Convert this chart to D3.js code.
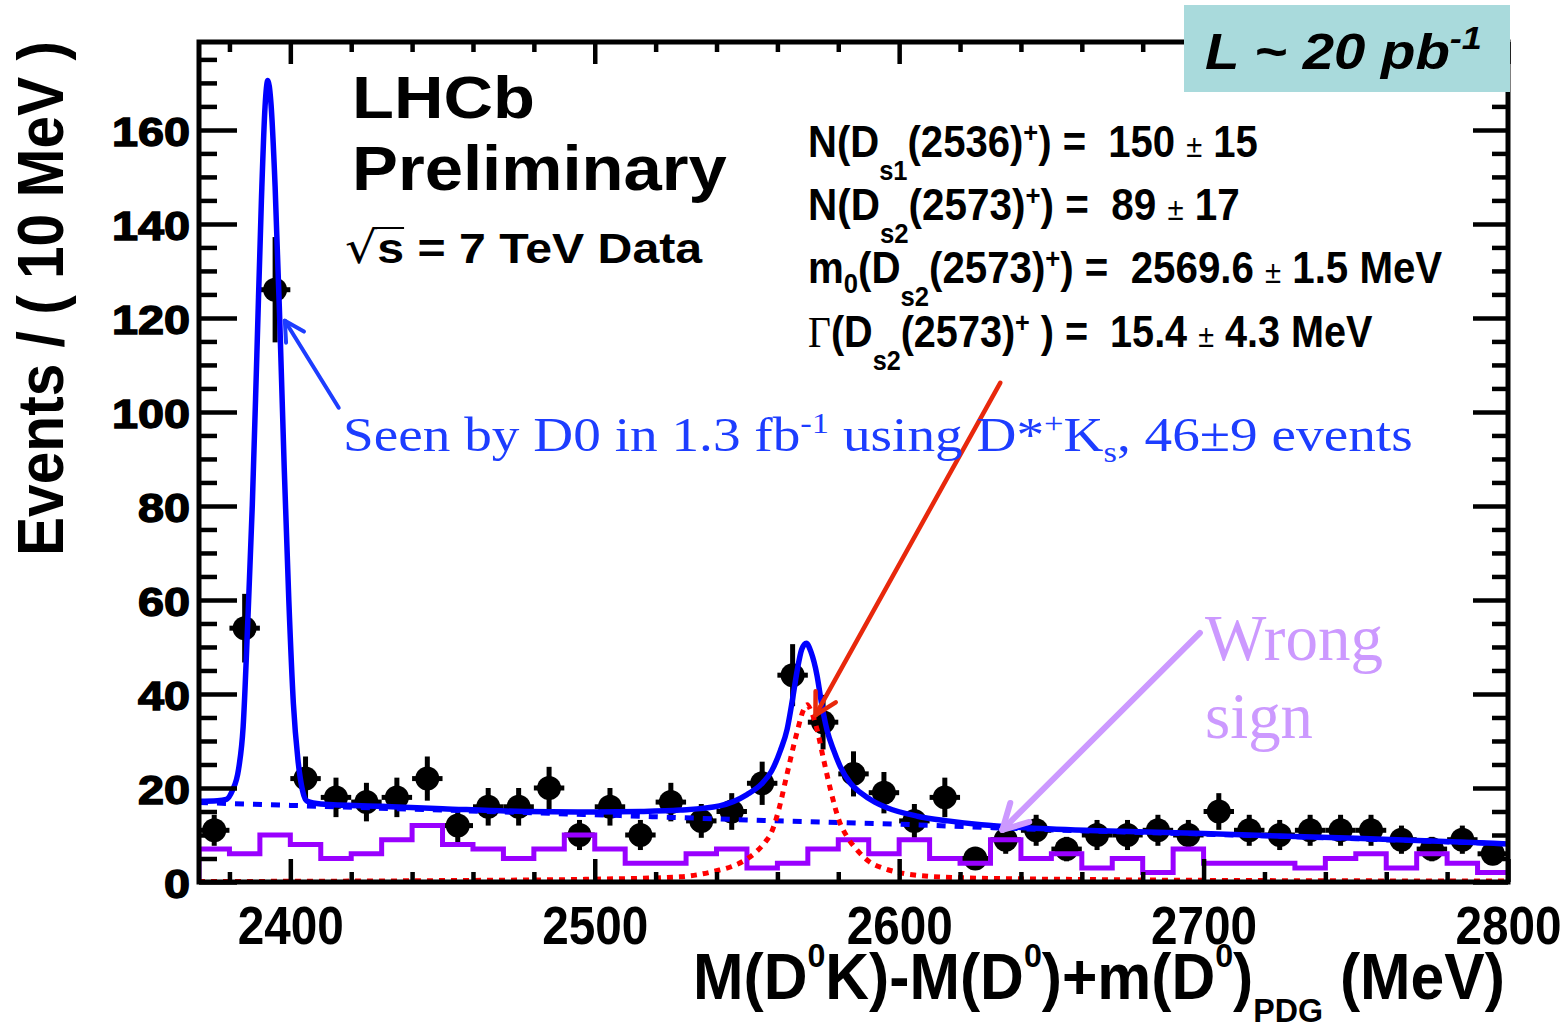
<!DOCTYPE html>
<html>
<head>
<meta charset="utf-8">
<script src="https://cdn.jsdelivr.net/npm/d3@7"></script>
<style>
  html, body { margin: 0; padding: 0; background: #fff; }
  svg { display: block; }
  text { white-space: pre; }
</style>
</head>
<body>
<svg id="chart" width="1567" height="1029"></svg>
<script>
// ---- data ----

// bin centres (10 MeV bins)
const massBins = [2375, 2385, 2395, 2405, 2415, 2425, 2435, 2445, 2455, 2465,
                  2475, 2485, 2495, 2505, 2515, 2525, 2535, 2545, 2555, 2565,
                  2575, 2585, 2595, 2605, 2615, 2625, 2635, 2645, 2655, 2665,
                  2675, 2685, 2695, 2705, 2715, 2725, 2735, 2745, 2755, 2765,
                  2775, 2785, 2795];
const binHalfWidth = 5;

// right sign data
const counts = [11, 54, 126, 22, 18, 17, 18, 22, 12, 16,
                16, 20, 10, 16, 10, 17, 13, 15, 21, 44,
                34, 23, 19, 13, 18, 5, 9, 11, 7, 10,
                10, 11, 10, 15, 11, 10, 11, 11, 11, 9,
                7, 9, 6];
const countErrors = [3.3, 7.3, 11.2, 4.7, 4.2, 4.1, 4.2, 4.7, 3.5, 4.0,
                     4.0, 4.5, 3.2, 4.0, 3.2, 4.1, 3.6, 3.9, 4.6, 6.6,
                     5.8, 4.8, 4.4, 3.6, 4.2, 2.2, 3.0, 3.3, 2.6, 3.2,
                     3.2, 3.3, 3.2, 3.9, 3.3, 3.2, 3.3, 3.3, 3.3, 3.0,
                     2.6, 3.0, 2.4];

// wrong sign histogram
const wrongSign = [7, 6, 10, 8, 5, 6, 9, 12, 8, 7,
                   5, 7, 10, 7, 4, 4, 6, 7, 3, 4,
                   7, 9, 6, 9, 5, 4, 9, 5, 6, 3,
                   5, 2, 7, 4, 4, 4, 3, 5, 6, 3,
                   6, 4, 2];

// total fit (solid blue)
const fitMass = [2370, 2376, 2379, 2381, 2383, 2384.5, 2386, 2387.5, 2389, 2390.5,
                 2391.7, 2392.6, 2393.6, 2395, 2396.5, 2398, 2399.5, 2401, 2402.5, 2404,
                 2405.5, 2410, 2430, 2450, 2477, 2500, 2515, 2528, 2541, 2550,
                 2555, 2558, 2561, 2563.2, 2565, 2566.5, 2568, 2569.5, 2571, 2573,
                 2574.5, 2576.3, 2578.5, 2580.7, 2584, 2587.3, 2592, 2596, 2606, 2616,
                 2627, 2640, 2666, 2700, 2750, 2800];
const fitTotal = [17.2, 17.3, 17.6, 19.5, 24, 33, 55, 80, 112, 145,
                  165, 170.5, 166, 148, 120, 88, 60, 38, 26, 19.5,
                  17.2, 16.6, 16.1, 15.6, 15.0, 14.9, 15.0, 15.3, 16.2, 18.6,
                  21, 23.5, 28, 32.5, 39, 45, 49.5, 50.8, 49, 44,
                  38, 32.3, 28, 24.5, 21, 19, 17, 15.8, 14.0, 13.0,
                  12.2, 11.6, 10.9, 10.3, 9.3, 8.1];

// combinatorial background (dotted blue)
const bkgMass = [2370, 2400, 2450, 2500, 2528, 2550, 2600, 2633, 2650, 2700, 2750, 2800];
const bkgValues = [16.9, 16.3, 15.3, 14.3, 13.7, 13.2, 12.3, 11.5, 11.1, 10.2, 9.2, 8.1];

// Ds2(2573) signal (dotted red)
const ds2Mass = [2370, 2450, 2500, 2528, 2540, 2545, 2550, 2553, 2556, 2558,
                 2560.5, 2563, 2566.5, 2568.5, 2569.8, 2571, 2573, 2575.2, 2577.5, 2580.2,
                 2583, 2586.2, 2590, 2595, 2600, 2605, 2620, 2666, 2700, 2800];
const ds2Values = [0.1, 0.3, 0.6, 1.1, 2.4, 3.3, 4.9, 6.4, 8.5, 10.5,
                   15.5, 22.5, 32, 36.5, 37.7, 36.5, 32.5, 26, 19.5, 13.2,
                   9.5, 6.8, 4.4, 2.9, 2.0, 1.5, 0.9, 0.5, 0.35, 0.2];

const xTicks = [2400, 2500, 2600, 2700, 2800];
const yTicks = [0, 20, 40, 60, 80, 100, 120, 140, 160];

// annotation arrows, [mass, events] for tail and tip
const blueArrow = [[2415.9, 100.9], [2398.2, 119.4]];
const redArrow = [[2633.2, 106.2], [2572.5, 35.5]];
const wsArrow = [[2698.8, 53.0], [2633.9, 11.1]];

// ---- drawing ----

const SANS = "'Liberation Sans', Arial, Helvetica, sans-serif";
const SERIF = "'Liberation Serif', 'Times New Roman', serif";

const svg = d3.select("#chart");
svg.append("rect").attr("width", 1567).attr("height", 1029).attr("fill", "#fff");

const pLeft = 199, pRight = 1508, pTop = 42, pBottom = 882;

const x = d3.scaleLinear().domain([2370, 2800]).range([pLeft, pRight]);
const y = d3.scaleLinear().domain([0, 178.7]).range([pBottom, pTop]);

svg.append("clipPath").attr("id", "plotclip")
    .append("rect")
    .attr("x", pLeft).attr("y", pTop)
    .attr("width", pRight - pLeft).attr("height", pBottom - pTop);

// Text with sub/superscripts, squeezed to a target width if given.
function richText(parent, opt) {
    const g = parent.append("g");
    const t = g.append("text")
        .attr("font-family", opt.family || SANS)
        .attr("font-size", opt.size)
        .attr("font-weight", opt.weight || "bold")
        .attr("font-style", opt.style || "normal")
        .attr("fill", opt.fill || "#000");
    let cur = 0;
    opt.parts.forEach(function(p) {
        const shift = p.shift || 0;
        const s = t.append("tspan").attr("dy", shift - cur).text(p.t);
        cur = shift;
        if (p.size) s.attr("font-size", p.size);
        if (p.family) s.attr("font-family", p.family);
        if (p.weight) s.attr("font-weight", p.weight);
        if (p.style) s.attr("font-style", p.style);
    });
    let k = 1;
    if (opt.width) k = opt.width / t.node().getBBox().width;
    const rot = opt.rotate ? " rotate(" + opt.rotate + ")" : "";
    g.attr("transform", "translate(" + opt.x + "," + opt.y + ")" + rot + " scale(" + k + ",1)");
    return t;
}

const plot = svg.append("g").attr("clip-path", "url(#plotclip)");

// data points with error bars
const pts = massBins.map((m, i) => ({m: m, n: counts[i], e: countErrors[i]}));
const gData = plot.append("g");
gData.selectAll("line.ey").data(pts).join("line")
    .attr("class", "ey")
    .attr("x1", d => x(d.m)).attr("x2", d => x(d.m))
    .attr("y1", d => y(d.n - d.e)).attr("y2", d => y(d.n + d.e))
    .attr("stroke", "#000").attr("stroke-width", 5);
gData.selectAll("line.ex").data(pts).join("line")
    .attr("class", "ex")
    .attr("x1", d => x(d.m - binHalfWidth)).attr("x2", d => x(d.m + binHalfWidth))
    .attr("y1", d => y(d.n)).attr("y2", d => y(d.n))
    .attr("stroke", "#000").attr("stroke-width", 5);
gData.selectAll("circle").data(pts).join("circle")
    .attr("cx", d => x(d.m)).attr("cy", d => y(d.n)).attr("r", 12)
    .attr("fill", "#000");

// wrong sign histogram (steps)
const wsPoints = [[massBins[0] - binHalfWidth, 0]]
    .concat(massBins.map((m, i) => [m - binHalfWidth, wrongSign[i]]))
    .concat([[massBins[massBins.length - 1] + binHalfWidth, wrongSign[wrongSign.length - 1]]]);

plot.append("path")
    .attr("d", d3.line().x(d => x(d[0])).y(d => y(d[1])).curve(d3.curveStepAfter)(wsPoints))
    .attr("fill", "none").attr("stroke", "#9900ff").attr("stroke-width", 5);

const curveLine = d3.line().x(d => x(d[0])).y(d => y(d[1])).curve(d3.curveMonotoneX);

plot.append("path")
    .attr("d", curveLine(bkgMass.map((m, i) => [m, bkgValues[i]])))
    .attr("fill", "none").attr("stroke", "#0000ff").attr("stroke-width", 5)
    .attr("stroke-dasharray", "9,9");

plot.append("path")
    .attr("d", curveLine(ds2Mass.map((m, i) => [m, ds2Values[i]])))
    .attr("fill", "none").attr("stroke", "#ff0000").attr("stroke-width", 5)
    .attr("stroke-dasharray", "6,6");

plot.append("path")
    .attr("d", curveLine(fitMass.map((m, i) => [m, fitTotal[i]])))
    .attr("fill", "none").attr("stroke", "#0000ff").attr("stroke-width", 5.5)
    .attr("stroke-linejoin", "round");

// axes: ROOT style ticks on all four sides, pointing inwards
function styleAxis(g) {
    g.select(".domain").remove();
    g.selectAll(".tick line").attr("stroke", "#000").attr("stroke-width", 4.5);
}

const yMinor = d3.range(5, 180, 5).filter(v => v % 20 !== 0);
const xMinor = d3.range(2380, 2800, 20).filter(v => v % 100 !== 0);

const yAxisG = svg.append("g").attr("transform", "translate(" + pLeft + ",0)")
    .call(d3.axisLeft(y).tickValues(yTicks).tickSizeInner(-38).tickSizeOuter(0)
        .tickPadding(9).tickFormat(d3.format("d")))
    .call(styleAxis);
yAxisG.selectAll("text")
    .attr("font-family", SANS).attr("font-weight", "bold").attr("font-size", 40)
    .attr("fill", "#000").attr("stroke", "#000").attr("stroke-width", 1.4)
    .attr("dy", "0.38em")
    .attr("textLength", d => String(d).length * 26)
    .attr("lengthAdjust", "spacingAndGlyphs");
svg.append("g").attr("transform", "translate(" + pLeft + ",0)")
    .call(d3.axisLeft(y).tickValues(yMinor).tickSize(-18).tickFormat(""))
    .call(styleAxis);

svg.append("g").attr("transform", "translate(" + pRight + ",0)")
    .call(d3.axisRight(y).tickValues(yTicks).tickSize(-35).tickFormat(""))
    .call(styleAxis);
svg.append("g").attr("transform", "translate(" + pRight + ",0)")
    .call(d3.axisRight(y).tickValues(yMinor).tickSize(-16).tickFormat(""))
    .call(styleAxis);

const xAxisG = svg.append("g").attr("transform", "translate(0," + pBottom + ")")
    .call(d3.axisBottom(x).tickValues(xTicks).tickSizeInner(-23).tickSizeOuter(0)
        .tickPadding(24).tickFormat(d3.format("d")))
    .call(styleAxis);
xAxisG.selectAll("text")
    .attr("font-family", SANS).attr("font-weight", "bold").attr("font-size", 53)
    .attr("fill", "#000")
    .attr("textLength", 106)
    .attr("lengthAdjust", "spacingAndGlyphs");
svg.append("g").attr("transform", "translate(0," + pBottom + ")")
    .call(d3.axisBottom(x).tickValues(xMinor).tickSize(-10).tickFormat(""))
    .call(styleAxis);

svg.append("g").attr("transform", "translate(0," + pTop + ")")
    .call(d3.axisTop(x).tickValues(xTicks).tickSize(-22).tickFormat(""))
    .call(styleAxis);
svg.append("g").attr("transform", "translate(0," + pTop + ")")
    .call(d3.axisTop(x).tickValues(xMinor).tickSize(-10).tickFormat(""))
    .call(styleAxis);

// frame
svg.append("rect")
    .attr("x", pLeft).attr("y", pTop)
    .attr("width", pRight - pLeft).attr("height", pBottom - pTop)
    .attr("fill", "none").attr("stroke", "#000").attr("stroke-width", 5);

// axis titles
richText(svg, {
    x: 693, y: 999, size: 64, width: 812,
    parts: [
        {t: "M(D"}, {t: "0", size: 34, shift: -32}, {t: "K)-M(D"},
        {t: "0", size: 34, shift: -32}, {t: ")+m(D"}, {t: "0", size: 34, shift: -32},
        {t: ")"}, {t: "PDG", size: 34, shift: 23}, {t: " (MeV)"}
    ]
});
richText(svg, {
    x: 63, y: 556, size: 64, width: 515, rotate: -90,
    parts: [{t: "Events / ( 10 MeV )"}]
});

// LHCb labels
richText(svg, {x: 352, y: 118, size: 60, width: 183, parts: [{t: "LHCb"}]});
richText(svg, {x: 352, y: 190, size: 63, width: 375, parts: [{t: "Preliminary"}]});
const sqrtText = richText(svg, {
    x: 345, y: 263, size: 42, width: 358,
    parts: [
        {t: "\u221A", weight: "normal", family: "'DejaVu Sans', sans-serif", size: 44},
        {t: "s = 7 TeV Data"}
    ]
});
const e0 = sqrtText.node().getExtentOfChar(0);
const e1 = sqrtText.node().getExtentOfChar(1);
d3.select(sqrtText.node().parentNode).append("line")
    .attr("x1", e0.x + e0.width - 3).attr("x2", e1.x + e1.width)
    .attr("y1", -35).attr("y2", -35)
    .attr("stroke", "#000").attr("stroke-width", 2);

// fit results
const PM = {t: "\u00B1", weight: "normal", size: 32};
richText(svg, {
    x: 808, y: 157, size: 44, width: 450,
    parts: [{t: "N(D"}, {t: "s1", size: 28, shift: 23}, {t: "(2536)"},
            {t: "+", size: 28, shift: -15}, {t: ") =  150 "}, PM, {t: " 15"}]
});
richText(svg, {
    x: 808, y: 220, size: 44, width: 432,
    parts: [{t: "N(D"}, {t: "s2", size: 28, shift: 23}, {t: "(2573)"},
            {t: "+", size: 28, shift: -15}, {t: ") =  89 "}, PM, {t: " 17"}]
});
richText(svg, {
    x: 808, y: 283, size: 44, width: 635,
    parts: [{t: "m"}, {t: "0", size: 28, shift: 10}, {t: "(D"},
            {t: "s2", size: 28, shift: 23}, {t: "(2573)"},
            {t: "+", size: 28, shift: -15}, {t: ") =  2569.6 "}, PM, {t: " 1.5 MeV"}]
});
richText(svg, {
    x: 808, y: 347, size: 44, width: 565,
    parts: [{t: "\u0393", family: SERIF, weight: "normal", size: 44}, {t: "(D"},
            {t: "s2", size: 28, shift: 23}, {t: "(2573)"},
            {t: "+", size: 28, shift: -15}, {t: " ) =  15.4 "}, PM, {t: " 4.3 MeV"}]
});

// annotations
function arrow(pts, color, width, head) {
    const tail = [x(pts[0][0]), y(pts[0][1])];
    const tip = [x(pts[1][0]), y(pts[1][1])];
    const g = svg.append("g").attr("stroke", color).attr("stroke-width", width)
        .attr("stroke-linecap", "round").attr("fill", "none");
    g.append("line").attr("x1", tail[0]).attr("y1", tail[1]).attr("x2", tip[0]).attr("y2", tip[1]);
    const ang = Math.atan2(tail[1] - tip[1], tail[0] - tip[0]);
    [-0.5, 0.5].forEach(function(da) {
        g.append("line")
            .attr("x1", tip[0]).attr("y1", tip[1])
            .attr("x2", tip[0] + head * Math.cos(ang + da))
            .attr("y2", tip[1] + head * Math.sin(ang + da));
    });
}

arrow(blueArrow, "#1d3dff", 4, 22);
arrow(redArrow, "#e8280c", 4.5, 24);
arrow(wsArrow, "#cc99ff", 6, 28);

richText(svg, {
    x: 343, y: 451, size: 48, width: 1070, family: SERIF, weight: "normal", fill: "#1d3dff",
    parts: [{t: "Seen by D0 in 1.3 fb"}, {t: "-1", size: 30, shift: -18},
            {t: " using D*"}, {t: "+", size: 30, shift: -18}, {t: "K"},
            {t: "s", size: 30, shift: 11}, {t: ", 46\u00B19 events"}]
});

richText(svg, {x: 1205, y: 660, size: 66, width: 178, family: SERIF, weight: "normal",
    fill: "#cc99ff", parts: [{t: "Wrong"}]});
richText(svg, {x: 1205, y: 738, size: 66, width: 108, family: SERIF, weight: "normal",
    fill: "#cc99ff", parts: [{t: "sign"}]});

// luminosity box
svg.append("rect")
    .attr("x", 1184).attr("y", 5).attr("width", 326).attr("height", 87)
    .attr("fill", "#a9dadc");
richText(svg, {
    x: 1205, y: 69, size: 50, width: 277, style: "italic",
    parts: [{t: "L ~ 20 pb"}, {t: "-1", size: 32, shift: -20}]
});
</script>
</body>
</html>
